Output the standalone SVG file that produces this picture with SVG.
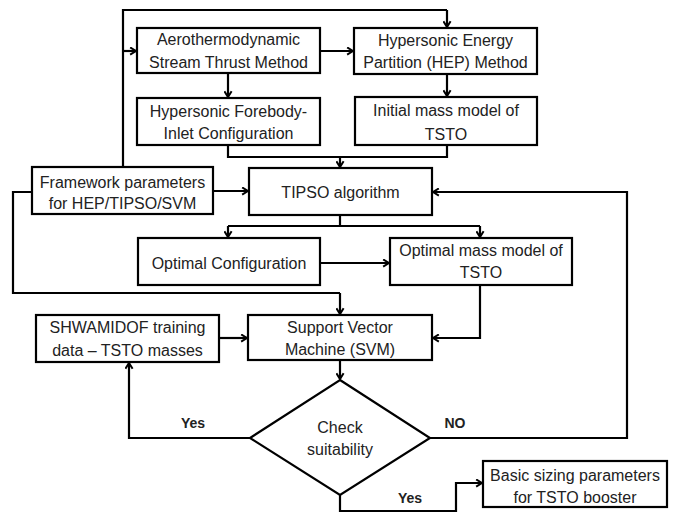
<svg xmlns="http://www.w3.org/2000/svg" width="673" height="513" viewBox="0 0 673 513">
<defs>
<marker id="ah" viewBox="0 0 10 10" refX="8.5" refY="5" markerWidth="9" markerHeight="9" orient="auto" markerUnits="userSpaceOnUse">
<path d="M2,1 L8.5,5 L2,9" fill="none" stroke="#000" stroke-width="2.2" stroke-linejoin="miter"/>
</marker>
<style>
.box{fill:#fff;stroke:#000;stroke-width:2.2}
.c{fill:none;stroke:#000;stroke-width:2.2}
.a{fill:none;stroke:#000;stroke-width:2.2;marker-end:url(#ah)}
text{font-family:"Liberation Sans",Arial,sans-serif;font-size:16px;fill:#222;text-anchor:middle}
.b{font-weight:bold;font-size:14px}
</style>
</defs>
<rect width="673" height="513" fill="#fff"/>
<g id="connectors">
<path class="c" d="M123,167 V10 H447"/>
<path class="a" d="M447,10 V27"/>
<path class="a" d="M123,51 H136"/>
<path class="a" d="M320,51 H353"/>
<path class="a" d="M228,73 V97"/>
<path class="a" d="M447,74 V96"/>
<path class="c" d="M228,145 V157 H447 V145"/>
<path class="a" d="M340,157 V167"/>
<path class="a" d="M213,191 H248"/>
<path class="c" d="M32,192 H13 V293 H340"/>
<path class="a" d="M340,293 V314"/>
<path class="c" d="M340,215 V226 M228,226 H480"/>
<path class="a" d="M228,226 V237"/>
<path class="a" d="M480,226 V237"/>
<path class="a" d="M320,263 H389"/>
<path class="a" d="M480,285 V338 H433"/>
<path class="a" d="M219,338 H247"/>
<path class="a" d="M340,360 V379"/>
<path class="a" d="M250,438 H129 V363"/>
<path class="a" d="M430,438 H627 V192 H433"/>
<path class="a" d="M340,495 V511 H456 V483 H482"/>
</g>
<g id="aero"><rect class="box" x="137" y="28" width="183" height="45"/><text x="228.5" y="45">Aerothermodynamic</text><text x="228.5" y="68">Stream Thrust Method</text></g>
<g id="hep"><rect class="box" x="354" y="28" width="183" height="46"/><text x="445.5" y="46">Hypersonic Energy</text><text x="445.5" y="68">Partition (HEP)  Method</text></g>
<g id="forebody"><rect class="box" x="137" y="98" width="183" height="47"/><text x="228.5" y="117">Hypersonic Forebody-</text><text x="228.5" y="139">Inlet Configuration</text></g>
<g id="initmass"><rect class="box" x="355" y="97" width="182" height="48"/><text x="446" y="116">Initial mass model of</text><text x="446" y="140">TSTO</text></g>
<g id="framework"><rect class="box" x="32" y="167" width="181" height="47"/><text x="122.5" y="188">Framework parameters</text><text x="122.5" y="209">for HEP/TIPSO/SVM</text></g>
<g id="tipso"><rect class="box" x="249" y="168" width="183" height="47"/><text x="340.5" y="198">TIPSO algorithm</text></g>
<g id="optconfig"><rect class="box" x="138" y="238" width="182" height="47"/><text x="229" y="269">Optimal Configuration</text></g>
<g id="optmass"><rect class="box" x="390" y="238" width="182" height="47"/><text x="481" y="256">Optimal mass model of</text><text x="481" y="278">TSTO</text></g>
<g id="shwamidof"><rect class="box" x="36" y="315" width="183" height="47"/><text x="127.5" y="333">SHWAMIDOF training</text><text x="127.5" y="356">data – TSTO masses</text></g>
<g id="svm"><rect class="box" x="248" y="315" width="184" height="45"/><text x="340" y="333">Support Vector</text><text x="340" y="355">Machine (SVM)</text></g>
<g id="check"><path class="box" d="M340,380 L430,438 L340,495 L250,438 Z"/><text x="340" y="433">Check</text><text x="340" y="455">suitability</text></g>
<g id="basic"><rect class="box" x="483" y="461" width="184" height="46"/><text x="575" y="481">Basic sizing parameters</text><text x="575" y="503">for TSTO booster</text></g>
<g id="labels"><text class="b" x="193" y="428">Yes</text><text class="b" x="455" y="428">NO</text><text class="b" x="410" y="503">Yes</text></g>
</svg>
